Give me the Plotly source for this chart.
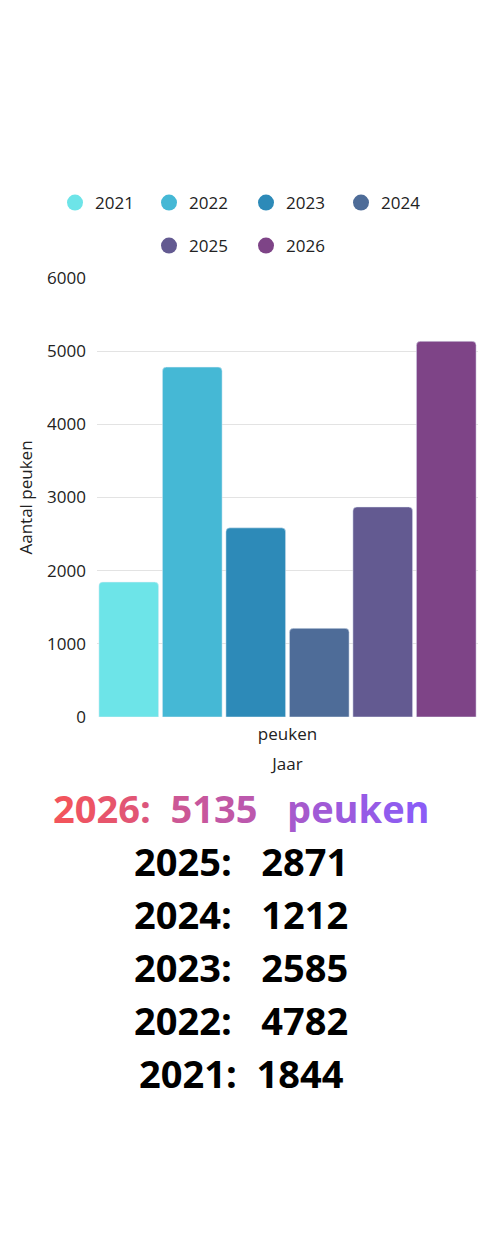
import plotly.graph_objects as go

years = ["2021", "2022", "2023", "2024", "2025", "2026"]
values = [1844, 4782, 2585, 1212, 2871, 5135]
category = ["peuken"]
colors = ["#6de4e8", "#45b8d5", "#2d8ab8", "#4e6c98", "#635a91", "#7e4487"]

W, H = 500, 1250
L, R, T, B = 97, 22, 278, 533
PW, PH = W - L - R, H - T - B

def px_x(x):
    return (x - L) / PW

def px_y(y):
    return (H - B - y) / PH

# legend entry placement (circle centre px, row centre px)
leg_pos = [(77, 203), (171, 203), (268, 203), (363, 203), (171, 246), (268, 246)]

font = "Open Sans, Noto Sans, sans-serif"

fig = go.Figure()
legends = {}
for i, (yr, v, c) in enumerate(zip(years, values, colors)):
    fig.add_trace(go.Bar(
        x=category, y=[v], name=yr, marker=dict(color=c, cornerradius=4),
        showlegend=False, hoverinfo="y"))
    lname = "legend" if i == 0 else f"legend{i + 1}"
    fig.add_trace(go.Scatter(
        x=[None], y=[None], mode="markers", name=yr,
        marker=dict(color=c, size=17, symbol="circle"),
        legend=lname, showlegend=True))
    cx, cy = leg_pos[i]
    legends[lname] = dict(
        orientation="h", x=px_x(cx - 22), xanchor="left",
        y=px_y(cy), yanchor="middle", bgcolor="rgba(0,0,0,0)",
        font=dict(size=17, color="#222"), itemwidth=30)

def grad(text, c0, c1):
    n = len(text)
    out = []
    for i, ch in enumerate(text):
        t = i / max(n - 1, 1)
        r = round(c0[0] + (c1[0] - c0[0]) * t)
        g = round(c0[1] + (c1[1] - c0[1]) * t)
        b = round(c0[2] + (c1[2] - c0[2]) * t)
        if ch == " ":
            out.append("\u00a0")
        else:
            out.append(f"<span style='color:rgb({r},{g},{b})'>{ch}</span>")
    return "".join(out)

NB = "\u00a0"
lines = [
    (grad(f"{years[5]}:  {values[5]}   peuken", (242, 84, 92), (139, 92, 246)), 808),
    (f"{years[4]}:{NB*3}{values[4]}", 861),
    (f"{years[3]}:{NB*3}{values[3]}", 914),
    (f"{years[2]}:{NB*3}{values[2]}", 967),
    (f"{years[1]}:{NB*3}{values[1]}", 1020),
    (f"{years[0]}:{NB*2}{values[0]}", 1073),
]
annotations = []
for txt, y in lines:
    annotations.append(dict(
        text=f"<b>{txt}</b>", x=px_x(241), y=px_y(y), xref="paper", yref="paper",
        xanchor="center", yanchor="middle", showarrow=False,
        font=dict(family=font, size=38, color="#000000")))

fig.update_layout(
    width=W, height=H,
    margin=dict(l=L, r=R, t=T, b=B, pad=0, autoexpand=False),
    paper_bgcolor="white", plot_bgcolor="white",
    barmode="group", bargap=0, bargroupgap=0.06,
    font=dict(family=font, size=17, color="#222222"),
    xaxis=dict(title=dict(text="Jaar", font=dict(size=17), standoff=14),
               showgrid=False, showline=False, zeroline=False,
               tickfont=dict(size=17), ticklabelstandoff=5),
    yaxis=dict(title=dict(text="Aantal peuken", font=dict(size=17), standoff=10),
               range=[0, 6000], dtick=1000, showgrid=True, gridcolor="#e3e3e3",
               zeroline=False, showline=False, tickfont=dict(size=17),
               ticklabelstandoff=10),
    annotations=annotations,
    **legends,
)

fig.write_html("out.html")
